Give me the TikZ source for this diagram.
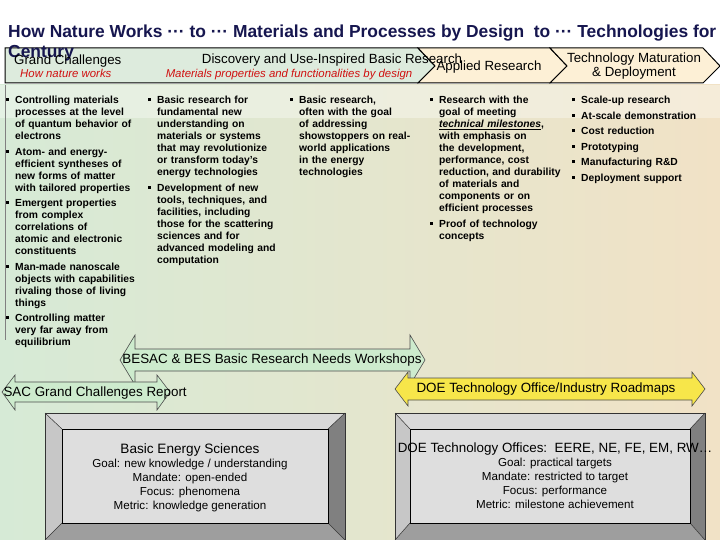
\documentclass[tikz,border=0pt]{standalone}
\usepackage{fontspec}
\setmainfont{Liberation Sans}
\definecolor{navy}{HTML}{16164F}
\definecolor{bandgreen}{HTML}{DDEBDD}
\definecolor{bandtan}{HTML}{FDF0D6}
\definecolor{bgl}{HTML}{D6EAD6}
\definecolor{bgr}{HTML}{F1E2C6}
\definecolor{arrgreen}{HTML}{CDEBCD}
\definecolor{arryel}{HTML}{F7E64A}
\definecolor{redit}{HTML}{D01010}
\newcommand{\bitem}{\par\vspace{3.5pt}\noindent\hangindent=9pt\hangafter=1\makebox[9pt][l]{\raisebox{2.5pt}{\rule{2.8pt}{2.8pt}}}}
\newcommand{\nohyph}{\lefthyphenmin=62\hyphenpenalty=10000\relax}
\tikzset{
 col/.style={anchor=north west,inner sep=0pt,align=left,font=\bfseries\fontsize{10.3}{12}\selectfont},
 bandtxt/.style={font=\fontsize{13.3}{14}\selectfont},
 redtxt/.style={font=\itshape\fontsize{11.4}{12}\selectfont,text=redit},
 arrtxt/.style={font=\fontsize{13.4}{14}\selectfont},
 arrline/.style={draw=black!70,line width=0.6pt},
 boxtxt/.style={align=center,font=\fontsize{11.6}{14}\selectfont}
}
\begin{document}
\begin{tikzpicture}[x=1pt,y=-1pt]
\useasboundingbox (0,0) rectangle (720,540);
\clip (0,0) rectangle (720,540);
\fill[white] (0,0) rectangle (720,540);
\shade[left color=bgl,right color=bgr] (0,85) rectangle (720,540);
\fill[white,opacity=0.35] (0,85) rectangle (720,118);
\draw[black!50] (5,85) -- (5,340);
% title
\node[anchor=base west,inner sep=0,text=navy,font=\bfseries\fontsize{17.4}{18}\selectfont] (title) at (8,38) {How Nature Works ··· to ··· Materials and Processes by Design\ \ to ··· Technologies for};
% band
\draw[fill=bandgreen,line width=1pt] (5,48) -- (418,48) -- (435,66) -- (418,83) -- (5,83) -- cycle;
\draw[fill=bandtan,line width=1pt] (418,48) -- (550,48) -- (567,66) -- (550,83) -- (418,83) -- (435,66) -- cycle;
\draw[fill=bandtan,line width=1pt] (550,48) -- (703,48) -- (720,66) -- (703,83) -- (550,83) -- (567,66) -- cycle;
\node[anchor=base west,inner sep=0,text=navy,font=\bfseries\fontsize{17.4}{18}\selectfont] (century) at (8,58) {Century};
\node[bandtxt,anchor=base west,inner sep=0] (gc) at (14,65) {Grand Challenges};
\node[redtxt,anchor=base west,inner sep=0] (hnw) at (20,78) {How nature works};
\node[bandtxt,anchor=base] (disc) at (332,64) {Discovery and Use-Inspired Basic Research};
\node[redtxt,anchor=base] (mat) at (289,78) {Materials properties and functionalities by design};
\node[bandtxt,anchor=base] (ar) at (489,71) {Applied Research};
\node[bandtxt,align=center,font=\fontsize{13.3}{14}\selectfont] (tm) at (634,66) {Technology Maturation\\ \& Deployment};
% columns
\node[col,text width=131pt] (c1) at (6,88) {\nohyph
\bitem Controlling materials processes at the level of quantum behavior of electrons
\bitem Atom- and energy-efficient syntheses of new forms of matter with tailored properties
\bitem Emergent properties from complex correlations of atomic and electronic constituents
\bitem Man-made nanoscale objects with capabilities rivaling those of living things
\bitem Controlling matter very far away from equilibrium\par};
\node[col,text width=130pt] (c2) at (148,88) {\nohyph
\bitem Basic research for fundamental new understanding on materials or systems that may revolutionize or transform today's energy technologies
\bitem Development of new tools, techniques, and facilities, including those for the scattering sciences and for advanced modeling and computation\par};
\node[col,text width=126pt] (c3) at (290,88) {\nohyph
\bitem Basic research, often with the goal of addressing showstoppers on real-world applications in the energy technologies\par};
\node[col,text width=134pt] (c4) at (430,88) {\nohyph
\bitem Research with the goal of meeting \underline{\itshape technical milestones}, with emphasis on the development, performance, cost reduction, and durability of materials and components or on efficient processes
\bitem Proof of technology concepts\par};
\node[col,text width=140pt] (c5) at (572,88) {\nohyph
\bitem Scale-up research
\bitem At-scale demonstration
\bitem Cost reduction
\bitem Prototyping
\bitem Manufacturing R\&D
\bitem Deployment support\par};
% double arrows
\draw[arrline,fill=arrgreen] (120,360) -- (135,335) -- (135,349) -- (410,349) -- (410,335) -- (425,360) -- (410,385) -- (410,371) -- (135,371) -- (135,385) -- cycle;
\node[arrtxt] (besact) at (272,360) {BESAC \& BES Basic Research Needs Workshops};
\draw[arrline,fill=arrgreen] (2,392) -- (15,375) -- (15,382) -- (157,382) -- (157,375) -- (170,392) -- (157,410) -- (157,402) -- (15,402) -- (15,410) -- cycle;
\node[arrtxt,anchor=west] (sact) at (0,393) {SAC Grand Challenges Report};
\draw[arrline,fill=arryel] (395,389) -- (408,372) -- (408,378) -- (692,378) -- (692,372) -- (705,389) -- (692,406) -- (692,400) -- (408,400) -- (408,406) -- cycle;
\node[arrtxt] (doet) at (546,389) {DOE Technology Office/Industry Roadmaps};
% bevel boxes
\foreach \ox/\oX/\ix/\iX in {45/345/62/328,395/705/410/690}{
 \fill[black!15] (\ox,413) -- (\oX,413) -- (\iX,429) -- (\ix,429) -- cycle;
 \fill[black!22] (\ox,413) -- (\ix,429) -- (\ix,523) -- (\ox,540) -- cycle;
 \fill[black!50] (\oX,413) -- (\iX,429) -- (\iX,523) -- (\oX,540) -- cycle;
 \fill[black!38] (\ox,540) -- (\ix,523) -- (\iX,523) -- (\oX,540) -- cycle;
 \draw[black!80,line width=0.5pt] (\ox,413) rectangle (\oX,545);
 \draw[black!80,line width=0.5pt] (\ox,413) -- (\ix,429) (\oX,413) -- (\iX,429) (\ox,540) -- (\ix,523) (\oX,540) -- (\iX,523);
 \draw[fill=black!13,line width=0.6pt] (\ix,429) rectangle (\iX,523);
}
\node[boxtxt] (bes) at (190,478) {{\fontsize{13.6}{14}\selectfont Basic Energy Sciences}\\Goal: new knowledge / understanding\\Mandate: open-ended\\Focus: phenomena\\Metric: knowledge generation};
\node[boxtxt] (dto) at (555,476) {{\fontsize{13.4}{14}\selectfont DOE Technology Offices:\ \ EERE, NE, FE, EM, RW…}\\Goal: practical targets\\Mandate: restricted to target\\Focus: performance\\Metric: milestone achievement};
\end{tikzpicture}
\end{document}
